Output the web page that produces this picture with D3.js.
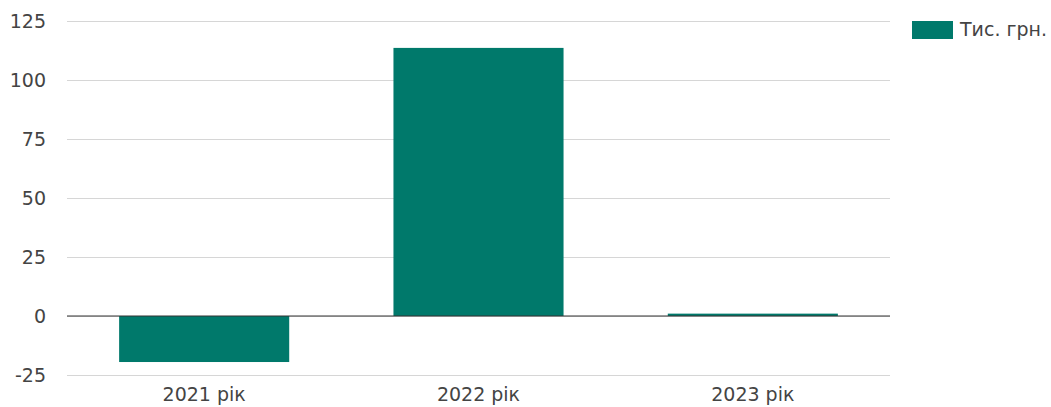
<!DOCTYPE html>
<html>
<head>
<meta charset="utf-8">
<script src="https://cdn.jsdelivr.net/npm/d3@7"></script>
<style>
  body { margin: 0; background: #fff; }
  svg { font-family: "DejaVu Sans", sans-serif; }
</style>
</head>
<body>
<div id="chart"></div>
<script>
// data
var categories = ['2021 рік', '2022 рік', '2023 рік'];
var values = [-19.5, 113.6, 1.0];
var yTicks = [-25, 0, 25, 50, 75, 100, 125];
var seriesName = 'Тис. грн.';

var width = 1051, height = 407;
var plotLeft = 67, plotRight = 890, plotTop = 21, plotBottom = 375;
var barColor = '#00796b';
var textColor = '#444';
var fontSize = '19px';

var svg = d3.select('#chart').append('svg')
  .attr('width', width)
  .attr('height', height);

var x = d3.scaleBand()
  .domain(categories)
  .range([plotLeft, plotRight])
  .paddingInner(0.38)
  .paddingOuter(0.19);

var y = d3.scaleLinear()
  .domain([-25, 125])
  .range([plotBottom, plotTop]);

// grid lines + y labels (plain hyphen for negatives, like the original)
var yAxis = d3.axisLeft(y)
  .tickValues(yTicks)
  .tickSize(-(plotRight - plotLeft))
  .tickPadding(21)
  .tickFormat(function(d) { return String(d); });

var gy = svg.append('g')
  .attr('transform', 'translate(' + plotLeft + ',0)')
  .call(yAxis);
gy.select('.domain').remove();
gy.selectAll('.tick line').attr('stroke', '#d6d6d6').attr('stroke-width', 1);
gy.selectAll('.tick text')
  .attr('fill', textColor)
  .attr('font-family', '"DejaVu Sans", sans-serif')
  .style('font-size', fontSize);

// bars
svg.append('g').selectAll('rect')
  .data(values)
  .enter()
  .append('rect')
  .attr('x', function(d, i) { return x(categories[i]); })
  .attr('width', x.bandwidth())
  .attr('y', function(d) { return y(Math.max(0, d)); })
  .attr('height', function(d) { return Math.abs(y(d) - y(0)); })
  .attr('fill', barColor);

// zero line
svg.append('line')
  .attr('x1', plotLeft).attr('x2', plotRight)
  .attr('y1', y(0)).attr('y2', y(0))
  .attr('stroke', '#333').attr('stroke-width', 1);

// x labels
var xAxis = d3.axisBottom(x).tickSize(0).tickPadding(13);
var gx = svg.append('g')
  .attr('transform', 'translate(0,' + plotBottom + ')')
  .call(xAxis);
gx.select('.domain').remove();
gx.selectAll('.tick text')
  .attr('fill', textColor)
  .attr('font-family', '"DejaVu Sans", sans-serif')
  .style('font-size', fontSize);

// legend
var legend = svg.append('g').attr('transform', 'translate(912,21)');
legend.append('rect')
  .attr('width', 41).attr('height', 18)
  .attr('fill', barColor);
legend.append('text')
  .attr('x', 48).attr('y', 15)
  .attr('fill', textColor)
  .style('font-size', fontSize)
  .text(seriesName);
</script>
</body>
</html>
